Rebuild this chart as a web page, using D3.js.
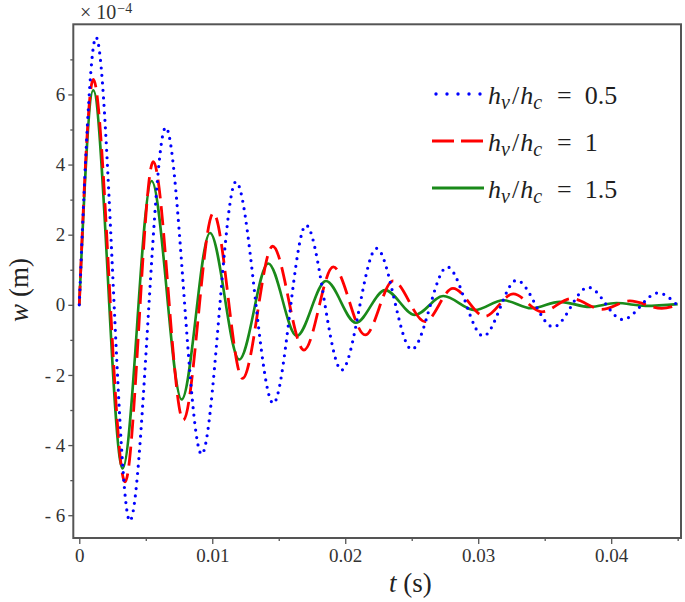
<!DOCTYPE html>
<html>
<head>
<meta charset="utf-8">
<script src="https://cdn.jsdelivr.net/npm/d3@7"></script>
<style>
body { margin: 0; background: #fff; }
svg { display: block; }
</style>
</head>
<body>
<div id="chart"></div>
<script>
// values (w in units of 1e-4 m)
var tBlue  = [0, 0.00126, 0.0038, 0.0065, 0.0092, 0.01178, 0.01459, 0.01705, 0.01973, 0.02236, 0.0250, 0.02767, 0.03038, 0.03289, 0.03564, 0.03827, 0.04086, 0.04353, 0.0450];
var wBlue  = [0, 7.63, -6.16, 5.06, -4.26, 3.51, -2.81, 2.27, -1.86, 1.61, -1.27, 1.08, -0.89, 0.70, -0.63, 0.50, -0.42, 0.34, -0.02];

var tRed   = [0, 0.00105, 0.00344, 0.00556, 0.00782, 0.01008, 0.01228, 0.01454, 0.0169, 0.0191, 0.0215, 0.0236, 0.0260, 0.0281, 0.0305, 0.03263, 0.0348, 0.0370, 0.0393, 0.0414, 0.0438, 0.0450];
var wRed   = [0, 6.43, -5.05, 4.08, -3.29, 2.62, -2.10, 1.67, -1.29, 1.08, -0.86, 0.68, -0.48, 0.47, -0.33, 0.31, -0.20, 0.18, -0.13, 0.11, -0.10, 0.0];

var tGreen = [0, 0.00105, 0.00326, 0.00544, 0.0077, 0.00983, 0.01203, 0.01421, 0.01635, 0.01855, 0.0208, 0.023, 0.02524, 0.02737, 0.02975, 0.03188, 0.034, 0.03614, 0.0384, 0.0404, 0.0426, 0.0450];
var wGreen = [0, 6.12, -4.67, 3.53, -2.70, 2.05, -1.56, 1.18, -0.89, 0.68, -0.51, 0.42, -0.29, 0.25, -0.15, 0.13, -0.10, 0.085, -0.06, 0.05, -0.03, 0.02];

var xMajor = [0, 0.01, 0.02, 0.03, 0.04];
var xMinor = [0.005, 0.015, 0.025, 0.035, 0.045];
var yMajor = [-6, -4, -2, 0, 2, 4, 6];
var yMinor = [-5, -3, -1, 1, 3, 5, 7];

var legendValues = ["0.5", "1", "1.5"];

var width = 685, height = 602;
var margin = {top: 24.3, right: 4, bottom: 64, left: 73.3};
var plotW = width - margin.left - margin.right,
    plotH = height - margin.top - margin.bottom;

var svg = d3.select("#chart").append("svg")
    .attr("width", width)
    .attr("height", height);

var g = svg.append("g")
    .attr("transform", "translate(" + margin.left + "," + margin.top + ")");

var x = d3.scaleLinear().domain([-0.00045, 0.04525]).range([0, plotW]);
var y = d3.scaleLinear().domain([-6.65, 8.0]).range([plotH, 0]);

g.append("clipPath").attr("id", "plot-clip")
    .append("rect").attr("width", plotW).attr("height", plotH);

// axes
function styleAxis(sel) {
    sel.select(".domain").remove();
    sel.selectAll(".tick line").attr("stroke", "#555").attr("stroke-width", 1.3);
    sel.selectAll(".tick text")
        .attr("fill", "#333")
        .style("font-family", "'Liberation Serif', 'Times New Roman', serif")
        .style("font-size", "19px");
}

g.append("g").attr("transform", "translate(0," + plotH + ")")
    .call(d3.axisBottom(x).tickValues(xMajor).tickSize(6).tickPadding(5)
        .tickFormat(function(d) { return d === 0 ? "0" : String(d); }))
    .call(styleAxis);
g.append("g").attr("transform", "translate(0," + plotH + ")")
    .call(d3.axisBottom(x).tickValues(xMinor).tickSize(3).tickFormat(""))
    .call(styleAxis);

g.append("g")
    .call(d3.axisLeft(y).tickValues(yMajor).tickSize(5).tickPadding(3)
        .tickFormat(function(d) { return d < 0 ? "- " + (-d) : String(d); }))
    .call(styleAxis);
g.append("g")
    .call(d3.axisLeft(y).tickValues(yMinor).tickSize(3).tickFormat(""))
    .call(styleAxis);

// curves
var line = d3.line()
    .x(function(d) { return x(d[0]); })
    .y(function(d) { return y(d[1]); })
    .curve(d3.curveMonotoneX);

var series = [
    {t: tGreen, w: wGreen, color: "#1a8a1a", dash: null, width: 2.6, cap: "butt"},
    {t: tRed,   w: wRed,   color: "#ff0000", dash: "19,8", width: 2.8, cap: "butt"},
    {t: tBlue,  w: wBlue,  color: "#0000ff", dash: "0,7.5", width: 3.2, cap: "round"}
];

var curves = g.append("g").attr("clip-path", "url(#plot-clip)");
series.forEach(function(s) {
    curves.append("path")
        .datum(d3.zip(s.t, s.w))
        .attr("fill", "none")
        .attr("stroke", s.color)
        .attr("stroke-width", s.width)
        .attr("stroke-linecap", s.cap)
        .attr("stroke-dasharray", s.dash)
        .attr("d", line);
});

// frame
g.append("rect")
    .attr("width", plotW).attr("height", plotH)
    .attr("fill", "none").attr("stroke", "#555").attr("stroke-width", 2);

// legend
var mathFont = "'Liberation Serif', 'Times New Roman', serif";
var legendItems = [
    {color: "#0000ff", dash: "0,11", width: 3.4, cap: "round", label: legendValues[0]},
    {color: "#ff0000", dash: "22,7", width: 2.8, cap: "butt", label: legendValues[1]},
    {color: "#1a8a1a", dash: null, width: 2.8, cap: "butt", label: legendValues[2]}
];
var legend = svg.append("g").attr("transform", "translate(432,0)");
legendItems.forEach(function(d, i) {
    var row = legend.append("g").attr("transform", "translate(0," + (94 + i * 47) + ")");
    row.append("line")
        .attr("x1", d.cap === "round" ? 4 : 0).attr("x2", 52)
        .attr("stroke", d.color).attr("stroke-width", d.width)
        .attr("stroke-linecap", d.cap).attr("stroke-dasharray", d.dash);
    var txt = row.append("text")
        .attr("x", 56).attr("y", 9.5)
        .attr("fill", "#1e1e1e")
        .style("font-family", mathFont)
        .style("font-size", "26px");
    txt.append("tspan").style("font-style", "italic").text("h");
    txt.append("tspan").style("font-style", "italic").style("font-size", "20px").attr("dy", 5).text("v");
    txt.append("tspan").attr("dy", -5).attr("dx", 2).text("/");
    txt.append("tspan").attr("dx", 1).style("font-style", "italic").text("h");
    txt.append("tspan").style("font-style", "italic").style("font-size", "20px").attr("dy", 5).text("c");
    txt.append("tspan").attr("dy", -5).attr("dx", 15).text("=");
    txt.append("tspan").attr("dx", 13).text(d.label);
});

// exponent label
var expo = svg.append("text")
    .attr("x", 80).attr("y", 18.5)
    .attr("fill", "#333")
    .style("font-family", mathFont)
    .style("font-size", "20px");
expo.append("tspan").text("\u00d7 10");
expo.append("tspan").attr("dy", -5.5).attr("dx", 1).style("font-size", "14px").text("\u22124");

// axis titles
var xTitle = svg.append("text")
    .attr("x", margin.left + x(0.0249)).attr("y", 592)
    .attr("text-anchor", "middle")
    .attr("fill", "#222")
    .style("font-family", mathFont)
    .style("font-size", "27px");
xTitle.append("tspan").style("font-style", "italic").text("t");
xTitle.append("tspan").text(" (s)");

var yTitle = svg.append("text")
    .attr("transform", "translate(28,290) rotate(-90)")
    .attr("text-anchor", "middle")
    .attr("fill", "#222")
    .style("font-family", mathFont)
    .style("font-size", "27px");
yTitle.append("tspan").style("font-style", "italic").text("w");
yTitle.append("tspan").text(" (m)");
</script>
</body>
</html>
